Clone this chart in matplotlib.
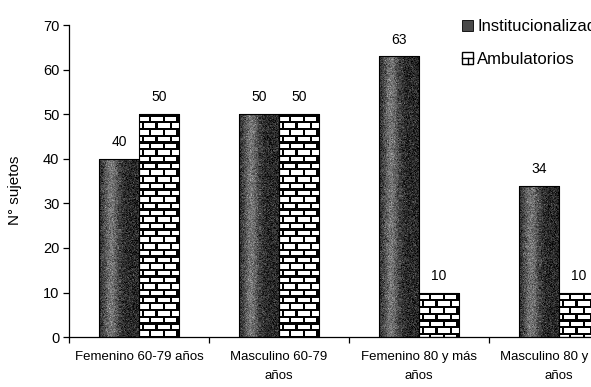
import numpy as np
import matplotlib
matplotlib.use("Agg")
import matplotlib.pyplot as plt
from matplotlib.patches import Patch, Rectangle
from matplotlib.lines import Line2D
from matplotlib.legend_handler import HandlerBase

plt.rcParams['font.family'] = ['Liberation Sans', 'DejaVu Sans']

categorias = ["Femenino 60-79 años", "Masculino 60-79\naños",
              "Femenino 80 y más\naños", "Masculino 80 y más\naños"]
institucionalizados = [40, 50, 63, 34]
ambulatorios = [50, 50, 10, 10]
yticks = [0, 10, 20, 30, 40, 50, 60, 70]

fig = plt.figure(figsize=(5.91, 3.87), dpi=100)
# the axes run past the right edge, as in the cropped scan
ax = fig.add_axes([0.117, 0.129, 0.947, 0.806])
ax.set_xlim(-0.5, 3.5)
ax.set_ylim(0, 70)

px_x = 0.947 * 591 / 4.0   # pixels per category
px_y = 0.806 * 387 / 70.0  # pixels per unit

rng = np.random.default_rng(3)


def textura_oscura(wpx, hpx):
    u = np.linspace(0, 1, wpx)
    perfil = 0.16 + 0.30 * np.exp(-((u - 0.3) / 0.2) ** 2)
    img = np.tile(perfil, (hpx, 1))
    img = img + rng.normal(0, 0.08, img.shape)
    return np.clip(img, 0, 1)


def textura_ladrillo(wpx, hpx):
    yy, xx = np.mgrid[0:hpx, 0:wpx]
    fila = 6.7
    ancho = 13.3
    k = (yy // fila).astype(int)
    horiz = (yy % fila) < 2.3
    off = (k % 2) * ancho / 2
    vert = ((xx + off + 4) % ancho) < 2.3
    return np.where(horiz | vert, 0.0, 1.0)


class HandlerLadrillo(HandlerBase):
    def create_artists(self, legend, orig_handle, xdescent, ydescent,
                       width, height, fontsize, trans):
        x0, y0 = -xdescent, -ydescent
        r = Rectangle((x0, y0), width, height, facecolor='white',
                      edgecolor='black', linewidth=1.0, transform=trans)
        h = Line2D([x0, x0 + width], [y0 + height * 0.5] * 2,
                   color='black', linewidth=1.0, transform=trans)
        v = Line2D([x0 + width * 0.5] * 2, [y0, y0 + height * 0.5],
                   color='black', linewidth=1.0, transform=trans)
        return [r, h, v]


x = np.arange(len(categorias))
w = 0.286
b1 = ax.bar(x - w / 2, institucionalizados, w, facecolor='none',
            edgecolor='black', linewidth=0.8, zorder=3)
b2 = ax.bar(x + w / 2, ambulatorios, w, facecolor='none',
            edgecolor='black', linewidth=0.8, zorder=3)

for barras, textura in ((b1, textura_oscura), (b2, textura_ladrillo)):
    for p in barras:
        x0 = p.get_x()
        h = p.get_height()
        wpx = max(int(round(p.get_width() * px_x)), 2)
        hpx = max(int(round(h * px_y)), 2)
        im = ax.imshow(textura(wpx, hpx), cmap='gray', vmin=0, vmax=1,
                       extent=(x0, x0 + p.get_width(), 0, h), aspect='auto',
                       interpolation='nearest', zorder=2)
        im.set_clip_path(p)
        ax.text(x0 + p.get_width() / 2, h + 2.2, str(int(h)), ha='center',
                va='bottom', fontsize=10)

ax.set_xlim(-0.5, 3.5)
ax.set_ylim(0, 70)

ax.spines['top'].set_visible(False)
ax.spines['right'].set_visible(False)
ax.spines['left'].set_linewidth(0.9)
ax.spines['bottom'].set_linewidth(0.9)

ax.set_yticks(yticks)
ax.tick_params(axis='y', direction='out', length=4, width=0.9, labelsize=10.5, pad=3)
ax.set_xticks(np.arange(-0.5, 4.0, 1.0))
ax.set_xticklabels([])
ax.tick_params(axis='x', which='major', direction='out', length=4, width=0.9)
ax.set_xticks(x, minor=True)
ax.set_xticklabels(categorias, minor=True, fontsize=9.5, linespacing=1.75)
ax.tick_params(axis='x', which='minor', length=0, pad=10)

ax.set_ylabel("N° sujetos", fontsize=11)
ax.yaxis.set_label_coords(-0.085, 0.47)

handles = [
    Patch(facecolor='#4a4a4a', edgecolor='black', linewidth=0.6),
    Patch(facecolor='white', edgecolor='black'),
]
fig.legend(handles, ["Institucionalizados", "Ambulatorios"],
           loc='upper left', bbox_to_anchor=(0.782, 0.95), frameon=False,
           fontsize=12, handlelength=0.65, handleheight=0.65,
           handletextpad=0.25, labelspacing=1.05, borderpad=0,
           borderaxespad=0, handler_map={handles[1]: HandlerLadrillo()})

fig.savefig("out.png", dpi=100, facecolor='white')
